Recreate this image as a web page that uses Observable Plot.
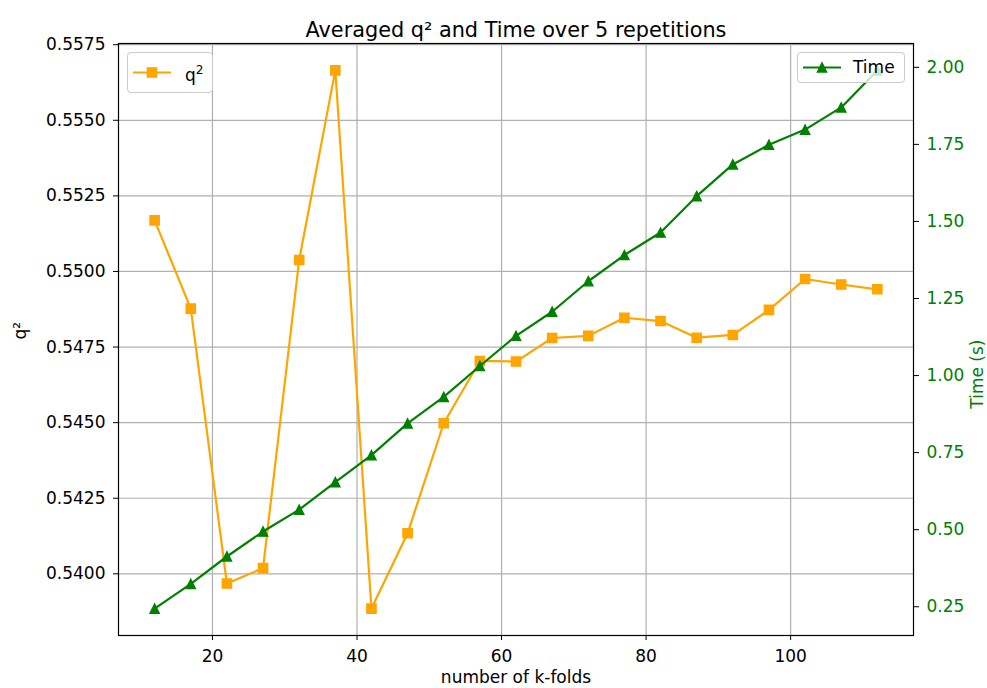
<!DOCTYPE html>
<html><head><meta charset="utf-8">
<script src="https://cdn.jsdelivr.net/npm/d3@7"></script>
<script src="https://cdn.jsdelivr.net/npm/@observablehq/plot@0.6"></script>
<style>
body{margin:0;background:#fff;}
#wrap{position:relative;width:987px;height:688px;font-family:"DejaVu Sans",sans-serif;color:#000;}
.legend{position:absolute;background:rgba(255,255,255,0.8);border:1px solid #cccccc;border-radius:4px;box-sizing:border-box;}
.legend svg{position:absolute;left:0;top:0;overflow:visible;}
.legend .lab{position:absolute;font-size:17px;line-height:1;white-space:nowrap;}
</style></head><body><div id="wrap"></div>
<script>
const kfolds = [12,17,22,27,32,37,42,47,52,57,62,67,72,77,82,87,92,97,102,107,112];
const q2 = [0.55169,0.54877,0.53968,0.54019,0.55038,0.55665,0.53885,0.54134,0.54498,0.54704,0.54702,
            0.54780,0.54787,0.54847,0.54836,0.54781,0.54790,0.54873,0.54975,0.54957,0.54941];
const timeS = [0.244,0.324,0.413,0.494,0.565,0.654,0.742,0.845,0.931,1.031,1.129,
               1.207,1.306,1.391,1.464,1.582,1.685,1.749,1.798,1.870,1.990];
const xTicks = [20,40,60,80,100];
const q2Ticks = [0.5400,0.5425,0.5450,0.5475,0.5500,0.5525,0.5550,0.5575];
const timeTicks = [0.25,0.50,0.75,1.00,1.25,1.50,1.75,2.00];

const ORANGE = "#FFA500", GREEN = "#008000";
const FS = 17;
const data = kfolds.map((k,i)=>({k, q2:q2[i], t:timeS[i]}));
const pad = arr => { const [a,b] = d3.extent(arr); const m = (b-a)*0.05; return [a-m, b+m]; };
const xDom = pad(kfolds), qDom = pad(q2), tDom = pad(timeS);
const t2q = d3.scaleLinear().domain(tDom).range(qDom);

const square = {draw(ctx,size){const r=Math.sqrt(size/Math.PI);ctx.moveTo(-r,-r);ctx.lineTo(r,-r);ctx.lineTo(r,r);ctx.lineTo(-r,r);ctx.closePath();}};
const triangle = {draw(ctx,size){const r=Math.sqrt(size/Math.PI);ctx.moveTo(0,-r);ctx.lineTo(r,r);ctx.lineTo(-r,r);ctx.closePath();}};
const MR = 4.6;

const chart = Plot.plot({
  width: 987, height: 688,
  marginLeft: 118, marginRight: 74, marginTop: 43, marginBottom: 53,
  style: {fontFamily: '"DejaVu Sans", sans-serif', fontSize: FS + "px", color: "black", background: "white"},
  x: {domain: xDom},
  y: {domain: qDom},
  marks: [
    Plot.gridX(xTicks, {stroke: "#b0b0b0", strokeOpacity: 1, strokeWidth: 1.2}),
    Plot.gridY(q2Ticks, {stroke: "#b0b0b0", strokeOpacity: 1, strokeWidth: 1.2}),
    Plot.line(data, {x: "k", y: "q2", stroke: ORANGE, strokeWidth: 2.2}),
    Plot.dot(data, {x: "k", y: "q2", symbol: square, r: MR, fill: ORANGE, stroke: ORANGE, strokeWidth: 1.4}),
    Plot.line(data, {x: "k", y: d => t2q(d.t), stroke: GREEN, strokeWidth: 2.2}),
    Plot.dot(data, {x: "k", y: d => t2q(d.t), symbol: triangle, r: MR, fill: GREEN, stroke: GREEN, strokeWidth: 1.4}),
    Plot.axisX(xTicks, {tickSize: 5, tickPadding: 9, label: null, stroke: "black", fill: "black", fontSize: FS}),
    Plot.axisY(q2Ticks, {anchor: "left", tickSize: 5, tickPadding: 8, label: null, tickFormat: d3.format(".4f"), stroke: "black", fill: "black", fontSize: FS}),
    Plot.axisY(timeTicks.map(t2q), {anchor: "right", tickSize: 5, tickPadding: 8, label: null,
      tickFormat: v => d3.format(".2f")(t2q.invert(v)), stroke: "black", fill: GREEN, fontSize: FS}),
    Plot.frame({stroke: "black", strokeWidth: 1.2}),
    Plot.text(["Averaged q² and Time over 5 repetitions"], {frameAnchor: "top", dy: -21, fontSize: 20.8, fill: "black"}),
    Plot.text(["number of k-folds"], {frameAnchor: "bottom", dy: 47, fill: "black", fontSize: FS}),
    Plot.text(["q²"], {frameAnchor: "left", dx: -98, rotate: -90, fill: "black", fontSize: FS}),
    Plot.text(["Time (s)"], {frameAnchor: "right", dx: 64, rotate: -90, fill: GREEN, fontSize: FS})
  ]
});
const wrap = document.getElementById("wrap");
wrap.appendChild(chart);

function legend(left, top, w, h, color, sym, labelHTML, labLeft) {
  const d = document.createElement("div");
  d.className = "legend";
  d.style.left = left + "px"; d.style.top = top + "px"; d.style.width = w + "px"; d.style.height = h + "px";
  const cy = h / 2;
  const r = MR;
  const marker = sym === "square"
    ? `<rect x="${24-r}" y="${cy-1-r}" width="${2*r}" height="${2*r}" fill="${color}" stroke="${color}" stroke-width="1.4"/>`
    : `<path d="M24,${cy-1-r}L${24+r},${cy-1+r}L${24-r},${cy-1+r}Z" fill="${color}" stroke="${color}" stroke-width="1.4"/>`;
  d.innerHTML = `<svg width="${w}" height="${h}"><line x1="5" x2="43" y1="${cy-1}" y2="${cy-1}" stroke="${color}" stroke-width="2.2"/>${marker}</svg>
    <div class="lab" style="left:${labLeft}px;top:${cy-10}px">${labelHTML}</div>`;
  wrap.appendChild(d);
}
legend(127, 52, 86, 41, ORANGE, "square", 'q<sup style="font-size:12px;vertical-align:7px">2</sup>', 57);
legend(797, 52, 108, 31, GREEN, "triangle", 'Time', 55);
</script>
</body></html>
